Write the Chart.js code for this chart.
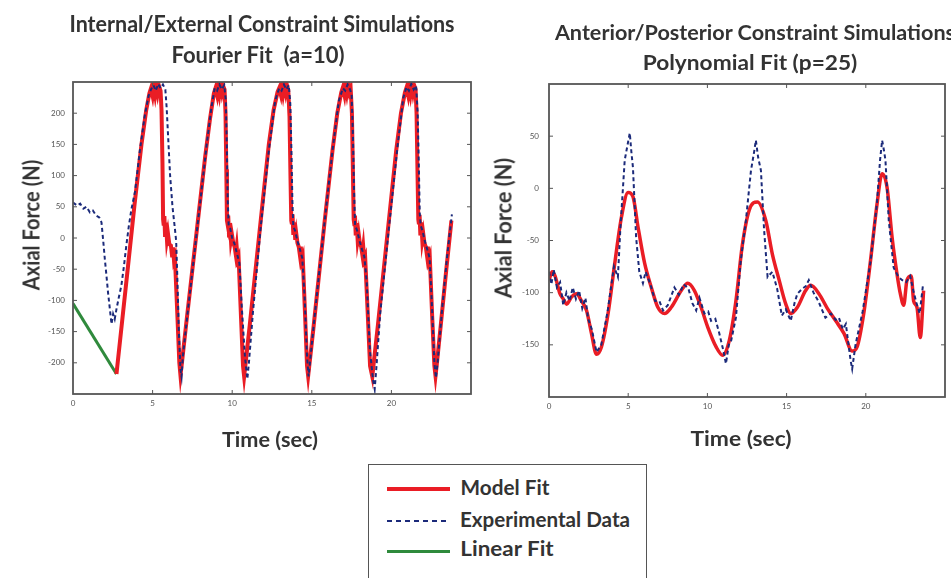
<!DOCTYPE html>
<html><head><meta charset="utf-8">
<script src="https://cdn.jsdelivr.net/npm/chart.js@4.4.1/dist/chart.umd.min.js"></script>
<style>
html,body{margin:0;padding:0;background:#fff;}
#wrap{position:relative;width:951px;height:578px;overflow:hidden;background:#fff;}
canvas{position:absolute;top:0;}
.t{position:absolute;white-space:pre;font-family:"Lato","Liberation Sans",sans-serif;font-weight:700;color:#333;line-height:1;}
.sample{position:absolute;}
</style></head><body>
<div id="wrap">
  <canvas id="chartL" width="480" height="430" style="left:0px;"></canvas>
  <canvas id="chartR" width="471" height="430" style="left:480px;"></canvas>
  <div id="legendBox" style="position:absolute;left:368px;top:464px;width:277px;height:140px;border:1.5px solid #555;"></div>
</div>
<script>
// ---------------- data ----------------
const seriesNames = ["Model Fit", "Experimental Data", "Linear Fit"];
const leftTitle = ["Internal/External Constraint Simulations", "Fourier Fit  (a=10)"];
const rightTitle = ["Anterior/Posterior Constraint Simulations", "Polynomial Fit (p=25)"];
const xAxisTitle = "Time (sec)";
const yAxisTitle = "Axial Force (N)";

const leftXTicks = [0, 5, 10, 15, 20];
const leftYTicks = [-200, -150, -100, -50, 0, 50, 100, 150, 200];
const rightXTicks = [0, 5, 10, 15, 20];
const rightYTicks = [-150, -100, -50, 0, 50];

const leftLinTime = [0.00, 2.73];
const leftLinForce = [-105, -218];

const leftModelTime = [2.73,3.10,3.46,3.87,4.30,4.60,4.80,4.90,5.00,5.08,5.16,5.24,5.32,5.40,5.50,5.56,5.62,5.66,5.70,5.74,5.78,5.84,5.90,5.96,6.05,6.15,6.22,6.28,6.34,6.40,6.55,6.68,6.75,6.82,
 7.10,7.50,7.90,8.30,8.60,8.85,8.95,9.05,9.12,9.20,9.28,9.36,9.44,9.52,9.58,9.63,9.67,9.71,9.75,9.80,9.86,9.92,9.98,10.07,10.15,10.22,10.28,10.34,10.40,10.55,10.68,10.75,10.82,
 11.10,11.80,12.30,12.60,12.85,12.95,13.05,13.12,13.20,13.28,13.36,13.44,13.52,13.60,13.66,13.71,13.75,13.79,13.84,13.90,13.96,14.02,14.10,14.18,14.25,14.31,14.37,14.43,14.58,14.70,14.77,14.84,
 15.10,15.80,16.30,16.60,16.85,16.95,17.05,17.12,17.20,17.28,17.36,17.44,17.52,17.58,17.63,17.67,17.71,17.76,17.82,17.88,17.94,18.02,18.10,18.17,18.23,18.29,18.35,18.52,18.66,18.80,18.87,
 19.15,19.85,20.30,20.60,20.85,20.95,21.05,21.12,21.20,21.28,21.36,21.44,21.52,21.58,21.64,21.69,21.73,21.77,21.82,21.88,21.94,22.00,22.08,22.16,22.23,22.29,22.35,22.41,22.56,22.70,22.77,22.84,
 23.10,23.45,23.77];
const leftModelForce = [-218,-130,-44,55,150,205,232,240,228,243,230,245,232,244,236,205,120,30,20,35,5,25,-2,8,-10,-12,-28,-15,-35,-30,-120,-200,-220,-205,
 -140,-50,40,130,190,232,240,229,244,231,246,233,243,238,200,110,28,22,36,4,24,-3,6,-8,-14,-26,-14,-34,-30,-125,-205,-222,-206,
 -140,30,150,205,234,240,230,245,231,244,233,245,238,195,100,28,22,38,5,25,-3,8,-8,-14,-27,-14,-35,-30,-125,-205,-221,-205,
 -145,25,140,200,233,241,229,244,232,246,234,240,200,110,30,22,36,4,24,-3,7,-9,-14,-26,-14,-34,-30,-125,-205,-222,-205,
 -140,30,140,200,233,241,229,244,231,246,233,244,238,200,105,30,22,37,4,25,-3,7,-9,-14,-27,-14,-35,-30,-125,-205,-221,-205,
 -140,-50,28];

const leftExpTime = [0.00,0.25,0.45,0.65,0.85,1.06,1.25,1.45,1.65,1.79,1.90,2.00,2.10,2.20,2.32,2.42,2.52,2.62,2.73,2.88,3.04,3.20,3.35,3.50,3.67,3.90,4.20,4.50,4.75,4.90,5.05,5.20,5.35,5.50,5.65,5.80,5.88,5.98,6.10,6.25,6.40,6.48,6.55,6.65,6.75,6.82,6.90,
 7.20,7.60,8.00,8.40,8.70,8.90,9.05,9.20,9.35,9.50,9.60,9.66,9.72,9.78,9.88,10.00,10.15,10.30,10.45,10.60,10.80,10.95,11.05,
 11.30,11.80,12.30,12.70,12.95,13.10,13.25,13.40,13.55,13.65,13.72,13.78,13.84,13.95,14.10,14.25,14.40,14.55,14.70,14.80,14.90,
 15.20,15.80,16.30,16.70,16.95,17.10,17.25,17.40,17.50,17.58,17.65,17.72,17.85,18.00,18.15,18.30,18.45,18.65,18.85,18.95,19.05,
 19.30,19.90,20.40,20.75,20.95,21.10,21.25,21.40,21.55,21.65,21.72,21.78,21.84,21.95,22.10,22.25,22.40,22.55,22.70,22.80,22.90,
 23.20,23.50,23.80];
const leftExpForce = [57,52,55,47,50,41,44,36,33,25,-5,-34,-60,-87,-115,-138,-122,-130,-114,-95,-76,-45,-12,18,46,75,140,195,228,238,245,236,247,240,246,238,210,160,100,50,15,-5,-60,-150,-210,-222,-190,
 -120,-30,60,150,210,240,236,246,238,245,220,150,60,20,15,0,-10,-25,-40,-110,-190,-226,-200,
 -120,20,140,220,240,236,246,238,245,215,140,60,18,12,-5,-18,-32,-95,-190,-222,-195,
 -120,25,140,220,240,236,246,238,230,170,80,20,12,-5,-18,-30,-70,-180,-228,-242,-210,
 -120,30,150,225,242,236,247,238,244,200,120,40,20,12,-5,-18,-32,-110,-200,-224,-200,
 -110,-30,38];

const rightModelTime = [0.00,0.20,0.38,0.69,0.90,1.11,1.43,1.74,2.05,2.37,2.68,3.00,3.31,3.73,4.15,4.57,4.99,5.30,5.62,6.04,6.46,6.87,7.30,7.72,8.35,8.76,9.18,9.60,10.02,10.55,10.96,11.38,11.80,12.20,12.64,13.16,13.69,14.10,14.53,14.95,15.26,15.68,16.20,16.52,17.04,17.57,18.10,18.62,19.14,19.45,19.87,20.30,20.71,21.03,21.34,21.66,21.97,22.18,22.39,22.60,22.87,23.02,23.23,23.44,23.65];
const rightModelForce = [-88,-80,-84,-101,-106,-111,-104,-101,-108,-117,-139,-159,-152,-120,-72,-28,-4,-8,-37,-72,-95,-114,-120,-114,-98,-91,-98,-114,-133,-152,-160,-146,-108,-55,-21,-13,-31,-63,-88,-111,-120,-114,-98,-93,-101,-115,-127,-139,-156,-152,-120,-69,-15,14,1,-47,-82,-101,-112,-88,-84,-108,-114,-143,-98];

const rightExpTime = [0.00,0.15,0.30,0.50,0.70,0.90,1.10,1.30,1.50,1.70,1.90,2.10,2.30,2.47,2.70,3.00,3.30,3.70,4.10,4.35,4.50,4.78,5.00,5.10,5.20,5.30,5.50,5.70,5.93,6.10,6.40,6.70,6.97,7.20,7.50,7.92,8.20,8.50,8.80,9.05,9.29,9.50,9.81,10.05,10.23,10.50,10.75,11.00,11.17,11.35,11.50,11.80,12.10,12.43,12.75,12.95,13.06,13.20,13.38,13.58,13.80,14.10,14.40,14.70,14.95,15.26,15.50,15.68,16.00,16.20,16.40,16.70,17.00,17.25,17.45,17.80,18.10,18.30,18.55,18.74,19.04,19.14,19.35,19.80,20.30,20.70,20.90,21.03,21.15,21.24,21.45,21.76,22.07,22.30,22.55,22.80,23.00,23.20,23.40,23.60];
const rightExpForce = [-80,-92,-78,-95,-90,-112,-100,-108,-95,-106,-98,-115,-105,-125,-135,-157,-150,-118,-75,-85,-40,27,45,53,35,20,-47,-80,-91,-80,-92,-108,-108,-117,-112,-95,-102,-92,-96,-110,-117,-105,-120,-118,-127,-125,-139,-155,-168,-150,-146,-124,-70,-31,17,35,46,30,17,-40,-85,-80,-96,-122,-116,-127,-110,-101,-96,-94,-88,-100,-108,-117,-124,-120,-126,-124,-135,-130,-165,-173,-150,-118,-70,-15,27,46,36,27,-31,-76,-85,-88,-90,-84,-98,-110,-120,-94];

// ---------------- styles ----------------
const RED = '#ea1d25', NAVY = '#1b2a7a', GREEN = '#2f8a3c';

function pairs(t, f) { return t.map((v, i) => ({x: v, y: f[i]})); }

const frame = {
  id: 'frame',
  afterDatasetsDraw(chart, args, opts) {
    const {ctx, chartArea: a, scales: {x, y}} = chart;
    ctx.save();
    ctx.strokeStyle = '#555';
    ctx.lineWidth = 1;
    ctx.beginPath();
    opts.xt.forEach(v => { const p = x.getPixelForValue(v); if (p > a.left + 1 && p < a.right - 1) { ctx.moveTo(p, a.bottom); ctx.lineTo(p, a.bottom - 4); ctx.moveTo(p, a.top); ctx.lineTo(p, a.top + 4); } });
    opts.yt.forEach(v => { const p = y.getPixelForValue(v); if (p > a.top + 1 && p < a.bottom - 1) { ctx.moveTo(a.left, p); ctx.lineTo(a.left + 4, p); ctx.moveTo(a.right, p); ctx.lineTo(a.right - 4, p); } });
    ctx.stroke();
    ctx.lineWidth = 1.8;
    ctx.strokeRect(a.left, a.top, a.width, a.height);
    ctx.restore();
  }
};

function makeChart(id, cfg) {
  const tickFont = {family: 'Lato, "Liberation Sans", sans-serif', size: 8};
  return new Chart(document.getElementById(id), {
    type: 'line',
    data: {datasets: cfg.datasets},
    options: {
      responsive: false, animation: false, devicePixelRatio: 1,
      layout: {padding: {left: 0, top: cfg.top, right: cfg.right, bottom: 0}},
      plugins: {legend: {display: false}, tooltip: {enabled: false}, title: {display: false}, frame: {xt: cfg.xt, yt: cfg.yt}},
      elements: {point: {radius: 0}},
      scales: {
        x: {type: 'linear', min: cfg.xmin, max: cfg.xmax,
            grid: {display: false, drawTicks: false}, border: {display: false},
            afterBuildTicks: s => { s.ticks = cfg.xt.map(v => ({value: v})); },
            afterFit: s => { s.height = 430 - cfg.bottom; },
            ticks: {font: tickFont, color: '#555', padding: 5, maxRotation: 0, autoSkip: false}},
        y: {type: 'linear', min: cfg.ymin, max: cfg.ymax,
            grid: {display: false, drawTicks: false}, border: {display: false},
            afterBuildTicks: s => { s.ticks = cfg.yt.map(v => ({value: v})); },
            afterFit: s => { s.width = cfg.left; },
            ticks: {font: tickFont, color: '#555', padding: cfg.ypad, autoSkip: false}}
      }
    },
    plugins: [frame]
  });
}

makeChart('chartL', {
  top: 82, bottom: 394, left: 73, right: 9, ypad: 8,
  xmin: 0, xmax: 25, ymin: -250, ymax: 250, xt: leftXTicks, yt: leftYTicks,
  datasets: [
    {label: seriesNames[1], data: pairs(leftExpTime, leftExpForce), borderColor: NAVY, borderWidth: 2, borderDash: [4, 3], tension: 0, order: 0},
    {label: seriesNames[0], data: pairs(leftModelTime, leftModelForce), borderColor: RED, borderWidth: 4, tension: 0, order: 1},
    {label: seriesNames[2], data: pairs(leftLinTime, leftLinForce), borderColor: GREEN, borderWidth: 3, tension: 0, order: 2}
  ]
});

makeChart('chartR', {
  top: 84, bottom: 397, left: 69, right: 6, ypad: 10,
  xmin: 0, xmax: 25, ymin: -200, ymax: 100, xt: rightXTicks, yt: rightYTicks,
  datasets: [
    {label: seriesNames[1], data: pairs(rightExpTime, rightExpForce), borderColor: NAVY, borderWidth: 2, borderDash: [4, 3], tension: 0, order: 0},
    {label: seriesNames[0], data: pairs(rightModelTime, rightModelForce), borderColor: RED, borderWidth: 3.5, tension: 0.4, cubicInterpolationMode: 'monotone', order: 1}
  ]
});

// ---------------- text (real text, fitted to measured widths) ----------------
const wrap = document.getElementById('wrap');
const texts = [
  {s: leftTitle[0], cx: 262, cy: 24, w: 385, size: 22},
  {s: leftTitle[1], cx: 258, cy: 55, w: 173, size: 22},
  {s: rightTitle[0], cx: 755, cy: 31, w: 400, size: 21},
  {s: rightTitle[1], cx: 750, cy: 61, w: 215, size: 21},
  {s: yAxisTitle, cx: 31, cy: 225, w: 130, size: 23, rot: true},
  {s: yAxisTitle, cx: 503, cy: 228, w: 140, size: 23, rot: true},
  {s: xAxisTitle, cx: 270, cy: 438, w: 96, size: 21},
  {s: xAxisTitle, cx: 741, cy: 437, w: 101, size: 21},
  {s: seriesNames[0], cx: 460 + 89 / 2, cy: 487, w: 89, size: 20},
  {s: seriesNames[1], cx: 460 + 170 / 2, cy: 519, w: 170, size: 20},
  {s: seriesNames[2], cx: 460 + 93 / 2, cy: 548, w: 93, size: 20}
];
const els = texts.map(o => {
  const d = document.createElement('div');
  d.className = 't';
  d.textContent = o.s;
  d.style.fontSize = o.size + 'px';
  d.style.left = o.cx + 'px';
  d.style.top = o.cy + 'px';
  wrap.appendChild(d);
  return d;
});
function fitTexts() {
  texts.forEach((o, i) => {
    const d = els[i];
    d.style.transform = 'none';
    const w = d.offsetWidth;
    const s = o.w / w;
    d.style.transform = 'translate(-50%,-50%)' + (o.rot ? ' rotate(-90deg)' : '') + ' scaleX(' + s + ')';
  });
}
fitTexts();
if (document.fonts && document.fonts.ready) document.fonts.ready.then(fitTexts);

// legend samples
function sample(top, css) {
  const d = document.createElement('div');
  d.className = 'sample';
  d.style.cssText = 'position:absolute;left:387px;width:63px;top:' + top + 'px;' + css;
  wrap.appendChild(d);
}
sample(487, 'height:4px;background:' + RED + ';');
sample(520, 'height:2px;background:repeating-linear-gradient(90deg,' + NAVY + ' 0 5px,transparent 5px 9px);');
sample(550, 'height:3px;background:' + GREEN + ';');
</script>
</body></html>
